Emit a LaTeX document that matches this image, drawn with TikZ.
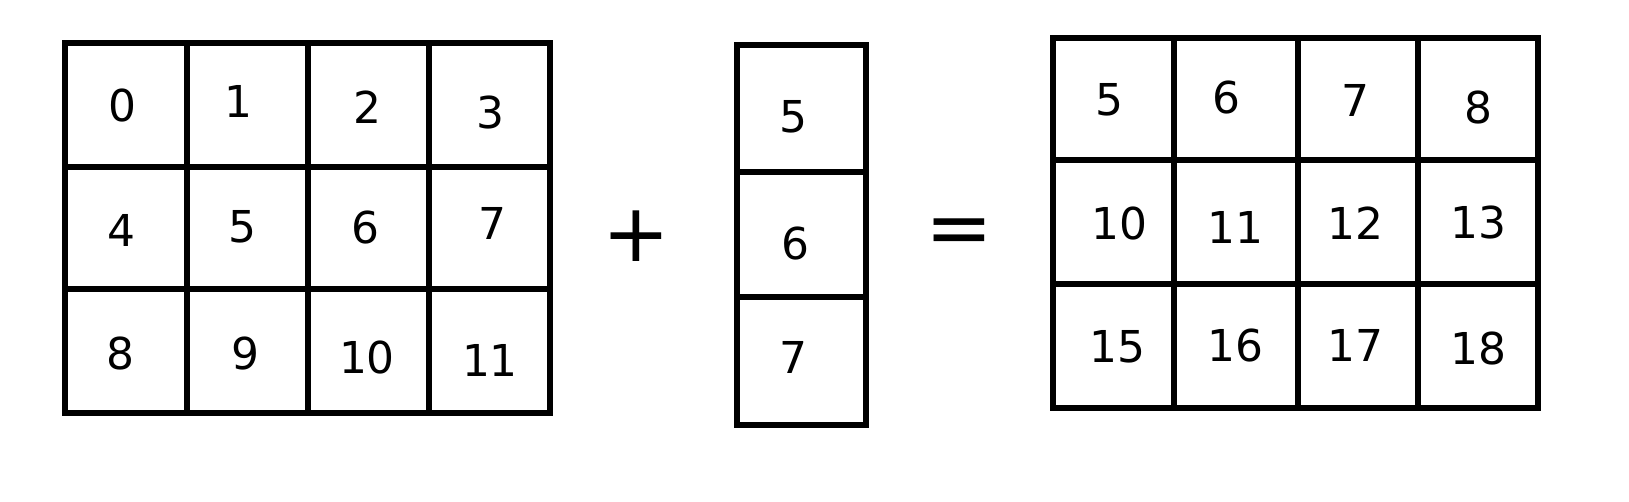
\documentclass[tikz,border=0pt]{standalone}
\usepackage{fontspec}
\setmainfont{DejaVu Sans}

\begin{document}
\begin{tikzpicture}[baseline, x = 0.1mm, y = -0.1mm]

    \tikzset{
      cell/.style={
        line width=1.7pt,
        color={black},
      },
      num/.style={
        anchor = center,
        inner sep=0pt,
        font=\fontsize{12.5}{15}\selectfont,
      },
      sign/.style={
        anchor = center,
        inner sep=0pt,
        font=\fontsize{23}{27}\selectfont,
      },
    }
    \useasboundingbox (0,0) rectangle (1629,501);

	% left matrix 3x4
	\draw[cell] (65,43) rectangle (550,413);
	\draw[cell] (187,43)--(187,413);
	\draw[cell] (308,43)--(308,413);
	\draw[cell] (429,43)--(429,413);
	\draw[cell] (65,167)--(550,167);
	\draw[cell] (65,289)--(550,289);

	\node[num] (a0) at (122,105) {0};
	\node[num] (a1) at (238,101) {1};
	\node[num] (a2) at (367,107) {2};
	\node[num] (a3) at (490,112) {3};
	\node[num] (a4) at (121,230) {4};
	\node[num] (a5) at (242,227) {5};
	\node[num] (a6) at (365,227) {6};
	\node[num] (a7) at (492,223) {7};
	\node[num] (a8) at (120,353) {8};
	\node[num] (a9) at (245,353) {9};
	\node[num] (a10) at (367,357) {10};
	\node[num] (a11) at (490,360) {11};

	\node[sign] (plus) at (636,236) {+};

	% column vector
	\draw[cell] (737,45) rectangle (866,425);
	\draw[cell] (737,172)--(866,172);
	\draw[cell] (737,297)--(866,297);

	\node[num] (b5) at (793,117) {5};
	\node[num] (b6) at (795,243) {6};
	\node[num] (b7) at (793,357) {7};

	\node[sign] (eq) at (959,237) {=};

	% result 3x4
	\draw[cell] (1053,38) rectangle (1538,408);
	\draw[cell] (1174,38)--(1174,408);
	\draw[cell] (1298,38)--(1298,408);
	\draw[cell] (1418,38)--(1418,408);
	\draw[cell] (1053,160)--(1538,160);
	\draw[cell] (1053,284)--(1538,284);

	\node[num] (c5) at (1109,100) {5};
	\node[num] (c6) at (1226,97) {6};
	\node[num] (c7) at (1355,100) {7};
	\node[num] (c8) at (1478,107) {8};
	\node[num] (c10) at (1119,223) {10};
	\node[num] (c11) at (1235,227) {11};
	\node[num] (c12) at (1355,223) {12};
	\node[num] (c13) at (1478,222) {13};
	\node[num] (c15) at (1117,347) {15};
	\node[num] (c16) at (1235,345) {16};
	\node[num] (c17) at (1355,345) {17};
	\node[num] (c18) at (1478,348) {18};

\end{tikzpicture}
\end{document}
